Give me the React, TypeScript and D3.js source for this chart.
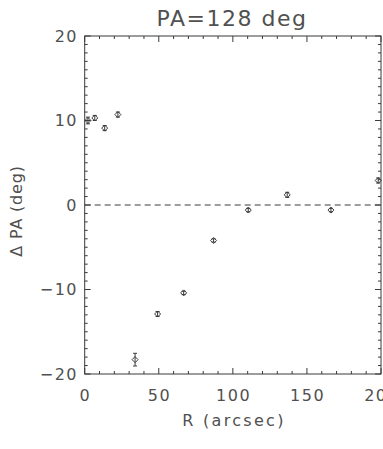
import React from 'react';
import * as d3 from 'd3';

// radius (arcsec), delta PA (deg), error (deg)
const radius = [2.2, 6.8, 13.5, 22.4, 34, 49.2, 66.8, 87, 110.4, 136.7, 166.2, 198.1];
const dpa = [10.0, 10.3, 9.1, 10.7, -18.3, -12.9, -10.4, -4.2, -0.6, 1.2, -0.6, 2.9];
const err = [0.4, 0.3, 0.3, 0.3, 0.75, 0.3, 0.2, 0.2, 0.2, 0.3, 0.2, 0.3];

const xTicks = [0, 50, 100, 150, 200];
const yTicks = [-20, -10, 0, 10, 20];

const W = 383;
const H = 449;
const ink = '#3a3a3a';
const txt = '#505050';
const font = '"DejaVu Sans", sans-serif';

export default function App() {
  const x = d3.scaleLinear().domain([0, 200]).range([84.7, 381]);
  const y = d3.scaleLinear().domain([-20, 20]).range([374, 36]);

  const xMinor = d3.range(0, 201, 10);
  const yMinor = d3.range(-20, 21, 1);
  const [x0, x1] = x.range();
  const [yb, yt] = y.range();

  return (
    <svg width={W} height={H} style={{ position: 'absolute', left: 0, top: 0, background: '#fff' }}>
      <rect x={x0} y={yt} width={x1 - x0} height={yb - yt} fill="none" stroke={ink} strokeWidth={1} />
      {/* x ticks, bottom and top */}
      {xMinor.map(v => {
        const len = v % 50 === 0 ? 6 : 3;
        return (
          <g key={'xt' + v} stroke={ink} strokeWidth={1}>
            <line x1={x(v)} x2={x(v)} y1={yb} y2={yb - len} />
            <line x1={x(v)} x2={x(v)} y1={yt} y2={yt + len} />
          </g>
        );
      })}
      {/* y ticks, left and right */}
      {yMinor.map(v => {
        const len = v % 10 === 0 ? 6 : 3;
        return (
          <g key={'yt' + v} stroke={ink} strokeWidth={1}>
            <line x1={x0} x2={x0 + len} y1={y(v)} y2={y(v)} />
            <line x1={x1} x2={x1 - len} y1={y(v)} y2={y(v)} />
          </g>
        );
      })}
      {xTicks.map(v => (
        <text key={'xl' + v} x={x(v) + 0.7} y={401} textAnchor="middle" fontFamily={font} fontSize={16} letterSpacing={1.5} fill={txt}>
          {v}
        </text>
      ))}
      {yTicks.map(v => (
        <text key={'yl' + v} x={78} y={y(v)} dy="0.36em" textAnchor="end" fontFamily={font} fontSize={16} letterSpacing={1.5} fill={txt}>
          {v < 0 ? '\u2212' + Math.abs(v) : v}
        </text>
      ))}
      {/* zero line */}
      <line x1={x0} x2={x1} y1={y(0)} y2={y(0)} stroke={ink} strokeWidth={1} strokeDasharray="6,4" />
      {/* data: diamonds with error bars */}
      {radius.map((r, i) => {
        const cx = x(r);
        const cy = y(dpa[i]);
        const e1 = y(dpa[i] + err[i]);
        const e2 = y(dpa[i] - err[i]);
        const s = 3;
        return (
          <g key={'p' + i} stroke={ink} strokeWidth={1} fill="none">
            <line x1={cx} x2={cx} y1={e1} y2={e2} />
            <line x1={cx - 2} x2={cx + 2} y1={e1} y2={e1} />
            <line x1={cx - 2} x2={cx + 2} y1={e2} y2={e2} />
            <path d={`M${cx},${cy - s}L${cx + s},${cy}L${cx},${cy + s}L${cx - s},${cy}Z`} />
          </g>
        );
      })}
      <text x={232} y={26} textAnchor="middle" fontFamily={font} fontSize={22} letterSpacing={1.5} fill={txt}>
        PA=128 deg
      </text>
      <text x={234} y={426} textAnchor="middle" fontFamily={font} fontSize={16} letterSpacing={2.3} fill={txt}>
        R (arcsec)
      </text>
      <text transform="translate(22,211) rotate(-90)" textAnchor="middle" fontFamily={font} fontSize={16} letterSpacing={0.8} fill={txt}>
        Δ PA (deg)
      </text>
    </svg>
  );
}
